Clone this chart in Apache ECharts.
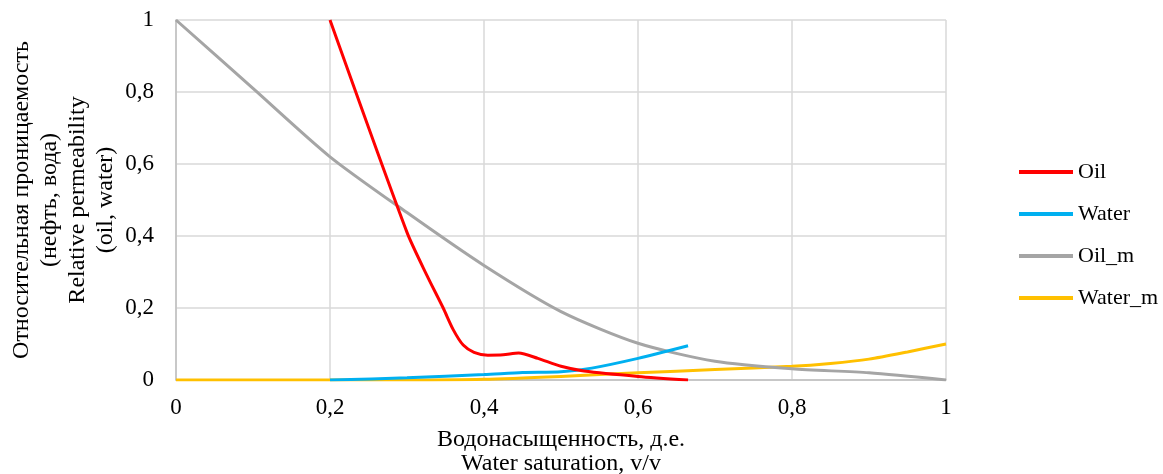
<!DOCTYPE html>
<html><head><meta charset="utf-8">
<script src="https://cdn.jsdelivr.net/npm/echarts@6/dist/echarts.min.js"></script>
<style>html,body{margin:0;padding:0;background:#fff}#c{width:1163px;height:474px}</style>
</head><body><div id="c"></div>
<script>
const seriesNames = ['Oil', 'Water', 'Oil_m', 'Water_m'];
const oilData = [[0.2,1],[0.3,0.41],[0.326,0.29],[0.347,0.2],[0.36,0.14],[0.373,0.097],[0.387,0.077],[0.405,0.069],[0.425,0.07],[0.445,0.075],[0.47,0.06],[0.5,0.038],[0.53,0.025],[0.6,0.01],[0.665,0.0]];
const waterData = [[0.2,0],[0.3,0.006],[0.4,0.015],[0.45,0.021],[0.5,0.023],[0.54,0.033],[0.6,0.06],[0.665,0.095]];
const oilMData = [[0,1],[0.1,0.81],[0.2,0.62],[0.3,0.465],[0.4,0.318],[0.5,0.19],[0.6,0.102],[0.7,0.052],[0.8,0.031],[0.9,0.02],[1,0]];
const waterMData = [[0,0],[0.1,0],[0.2,0],[0.3,0],[0.4,0.002],[0.5,0.01],[0.6,0.02],[0.7,0.029],[0.8,0.038],[0.85,0.046],[0.9,0.058],[0.95,0.078],[1,0.1]];
const xTitle = 'Водонасыщенность, д.е.\nWater saturation, v/v';
const yTitle = 'Относительная проницаемость\n(нефть, вода)\nRelative permeability\n(oil, water)';
const colors = ['#ff0000', '#00b0f0', '#a5a5a5', '#ffc000'];
const dataSets = [oilData, waterData, oilMData, waterMData];

const font = 'Liberation Serif';
const fmt = v => String(+v.toFixed(2)).replace('.', ',');
const chart = echarts.init(document.getElementById('c'));
chart.setOption({
  animation: false,
  textStyle: {fontFamily: font},
  grid: {left: 176, top: 20, width: 770, height: 360, containLabel: false, outerBoundsMode: 'none'},
  legend: {
    orient: 'vertical', left: 1014, top: 156,
    icon: 'rect', itemWidth: 54, itemHeight: 4, itemGap: 20,
    textStyle: {fontFamily: font, fontSize: 22, color: '#000', padding: [0, 0, 0, 0]},
    data: seriesNames
  },
  xAxis: {
    type: 'value', min: 0, max: 1, interval: 0.2,
    name: xTitle, nameLocation: 'middle', nameGap: 48, nameMoveOverlap: false,
    nameTextStyle: {fontFamily: font, fontSize: 24, color: '#000', lineHeight: 24},
    axisLine: {lineStyle: {color: '#bfbfbf', width: 1.5}},
    axisTick: {show: false},
    axisLabel: {fontFamily: font, fontSize: 23, color: '#000', margin: 16, formatter: fmt},
    splitLine: {lineStyle: {color: '#d9d9d9', width: 1.5}}
  },
  yAxis: {
    type: 'value', min: 0, max: 1, interval: 0.2,
    name: yTitle, nameLocation: 'middle', nameGap: 56, nameMoveOverlap: false,
    nameTextStyle: {fontFamily: font, fontSize: 24, color: '#000', lineHeight: 28},
    axisLine: {show: true, lineStyle: {color: '#bfbfbf', width: 1.5}},
    axisTick: {show: false},
    axisLabel: {fontFamily: font, fontSize: 23, color: '#000', margin: 22, formatter: fmt},
    splitLine: {lineStyle: {color: '#d9d9d9', width: 1.5}}
  },
  series: seriesNames.map((n, i) => ({
    name: n, type: 'line', data: dataSets[i], smooth: 0.25,
    symbol: 'none', color: colors[i],
    lineStyle: {width: 3, color: colors[i]},
    z: 10 - i
  }))
});
</script></body></html>
